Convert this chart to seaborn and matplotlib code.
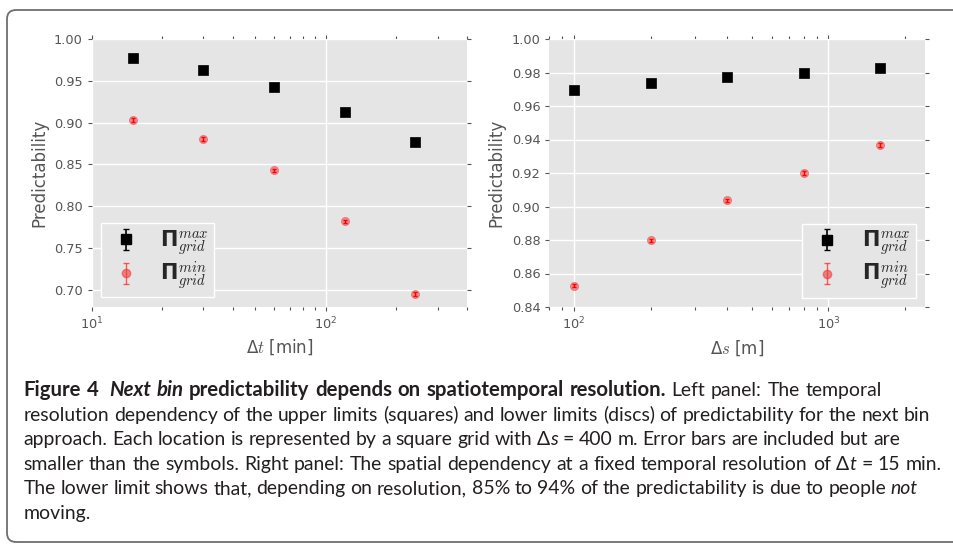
import numpy as np
import pandas as pd
import matplotlib
matplotlib.use("Agg")
import matplotlib.pyplot as plt
import seaborn as sns
from matplotlib.patches import FancyBboxPatch
from matplotlib.transforms import IdentityTransform
from matplotlib.ticker import FormatStrFormatter, MultipleLocator

# ---------------- data ----------------
dt_min = [15, 30, 60, 120, 240]
left_max = [0.977, 0.963, 0.9424, 0.9125, 0.8767]
left_min = [0.9033, 0.8803, 0.8429, 0.782, 0.6953]
left_max_err = [0.001, 0.001, 0.001, 0.001, 0.001]
left_min_err = [0.002, 0.002, 0.002, 0.002, 0.002]

ds_m = [100, 200, 400, 800, 1600]
right_max = [0.9697, 0.9735, 0.9771, 0.9797, 0.9825]
right_min = [0.8527, 0.8798, 0.9037, 0.920, 0.9367]
right_max_err = [0.0005, 0.0005, 0.0005, 0.0005, 0.0005]
right_min_err = [0.001, 0.001, 0.001, 0.001, 0.001]

label_max = r"$\mathbf{\Pi}_{grid}^{max}$"
label_min = r"$\mathbf{\Pi}_{grid}^{min}$"

W, H = 954, 544
sns.set_style("darkgrid", rc={
    "axes.facecolor": "#E5E5E5",
    "grid.color": "white",
    "grid.linewidth": 1.0,
    "axes.edgecolor": "white",
    "xtick.color": "#555555",
    "ytick.color": "#555555",
    "axes.labelcolor": "#555555",
    "xtick.direction": "out",
    "ytick.direction": "out",
})
plt.rcParams["font.family"] = ["DejaVu Sans"]
plt.rcParams["mathtext.fontset"] = "custom"
plt.rcParams["mathtext.rm"] = "DejaVu Sans"
plt.rcParams["mathtext.bf"] = "DejaVu Sans:bold"
plt.rcParams["mathtext.it"] = "cmmi10"
plt.rcParams["mathtext.fallback"] = "cm"

fig = plt.figure(figsize=(W / 100, H / 100), dpi=100)
axL = fig.add_axes([91.7 / W, 1 - 306.7 / H, (467 - 91.7) / W, (306.7 - 39) / H])
axR = fig.add_axes([549.3 / W, 1 - 307 / H, (925 - 549.3) / W, (307 - 39) / H])

RED = "#f03c3c"


def panel(ax, x, ymax, ymin, emax, emin):
    dfa = pd.DataFrame({"x": x, "y": ymax})
    dfb = pd.DataFrame({"x": x, "y": ymin})
    ax.errorbar(x, ymax, yerr=emax, fmt="none", ecolor="black", elinewidth=1, capsize=2, zorder=3)
    sns.scatterplot(data=dfa, x="x", y="y", ax=ax, marker="s", s=44, color="black",
                    edgecolor="black", linewidth=0.5, legend=False, zorder=4)
    sns.scatterplot(data=dfb, x="x", y="y", ax=ax, marker="o", s=34, color=RED, alpha=0.55,
                    edgecolor=RED, linewidth=0.6, legend=False, zorder=4)
    ax.errorbar(x, ymin, yerr=emin, fmt="none", ecolor="red", elinewidth=1, capsize=1.5,
                zorder=5)
    ax.set_xscale("log")
    ax.set_ylabel("Predictability", fontsize=12, color="#555555")
    ax.yaxis.set_major_formatter(FormatStrFormatter("%.2f"))
    ax.tick_params(which="both", top=True, right=True, bottom=True, left=True,
                   labelsize=9.3, colors="#555555", length=3, width=0.8)
    ax.tick_params(which="minor", length=2)
    ax.grid(True, which="major", color="white", linewidth=1.0)
    ax.grid(False, which="minor")
    for sp in ax.spines.values():
        sp.set_visible(False)
    h1 = ax.errorbar([np.nan], [np.nan], yerr=[1], fmt="s", color="black", ms=6.5,
                     ecolor="black", capsize=2.5, elinewidth=1.2)
    h2 = ax.errorbar([np.nan], [np.nan], yerr=[1], fmt="o", color=RED, ms=6, alpha=0.6,
                     ecolor="red", capsize=2, elinewidth=1)
    return h1, h2


LEGKW = dict(fontsize=15, frameon=True, facecolor="#E5E5E5", edgecolor="white", framealpha=1,
             handletextpad=0.75, handlelength=1.85, borderpad=0.25, labelspacing=0.12,
             numpoints=1, borderaxespad=0.45, fancybox=False)

h1, h2 = panel(axL, dt_min, left_max, left_min, left_max_err, left_min_err)
axL.set_xlim(10, 400)
axL.set_ylim(0.68, 1.00)
axL.yaxis.set_major_locator(MultipleLocator(0.05))
axL.set_xlabel(r"$\Delta t$ [min]", fontsize=12, color="#555555")
legL = axL.legend([h1, h2], [label_max, label_min], loc="lower left", **LEGKW)
legL.get_frame().set_linewidth(1.0)

g1, g2 = panel(axR, ds_m, right_max, right_min, right_max_err, right_min_err)
axR.set_xlim(80, 2400)
axR.set_ylim(0.84, 1.00)
axR.yaxis.set_major_locator(MultipleLocator(0.02))
axR.set_xlabel(r"$\Delta s$ [m]", fontsize=12, color="#555555")
legR = axR.legend([g1, g2], [label_max, label_min], loc="lower right", **LEGKW)
legR.get_frame().set_linewidth(1.0)

# ---------------- frame ----------------
frame = FancyBboxPatch((7, 2), 990, 532, boxstyle="round,pad=0,rounding_size=9",
                       transform=IdentityTransform(), facecolor="none",
                       edgecolor="#6d6e71", linewidth=1.3)
fig.patches.append(frame)

# ---------------- caption ----------------
fig.canvas.draw()
renderer = fig.canvas.get_renderer()
CAP = "#231f20"
FAM = ["Lato", "DejaVu Sans"]


def tw(s, size, weight="normal", style="normal"):
    t = fig.text(0, 0, s, fontsize=size, fontweight=weight, fontstyle=style, family=FAM)
    w = t.get_window_extent(renderer).width
    t.remove()
    return w


def width_of(s, size, weight="normal", style="normal"):
    return tw(s + "I", size, weight, style) - tw("I", size, weight, style)


ref_line = ("resolution dependency of the upper limits (squares) and lower limits (discs) "
            "of predictability for the next bin")
size = 12.0 * 907.0 / width_of(ref_line, 12.0)
BOLD_SCALE = 1.05

lines = [
    [("Figure 4  ", "bold", "normal"), ("Next bin", "bold", "italic"),
     (" predictability depends on spatiotemporal resolution.", "bold", "normal"),
     (" Left panel: The temporal", "normal", "normal")],
    [(ref_line, "normal", "normal")],
    [("approach. Each location is represented by a square grid with \u0394", "normal", "normal"),
     ("s", "normal", "italic"),
     (" = 400 m. Error bars are included but are", "normal", "normal")],
    [("smaller than the symbols. Right panel: The spatial dependency at a fixed temporal "
      "resolution of \u0394", "normal", "normal"), ("t", "normal", "italic"),
     (" = 15 min.", "normal", "normal")],
    [("The lower limit shows that, depending on resolution, 85% to 94% of the predictability "
      "is due to people ", "normal", "normal"), ("not", "normal", "italic")],
    [("moving.", "normal", "normal")],
]
baselines = [396, 420.6, 445.2, 469.8, 494.4, 519]
line_ends = [881.7, 930, 900, 941.7, 918, None]
X0 = 23.3

for runs, yb, xend in zip(lines, baselines, line_ends):
    tokens = []
    for txt, weight, style in runs:
        parts = txt.split(" ")
        for i, p in enumerate(parts):
            if i > 0:
                tokens.append((" ", weight, style))
            if p:
                tokens.append((p, weight, style))

    def sz(weight):
        return size * (BOLD_SCALE if weight == "bold" else 1.0)

    natural = 0.0
    nspace = 0
    for tok, weight, style in tokens:
        natural += width_of(tok, sz(weight), weight, style)
        if tok == " ":
            nspace += 1
    extra = 0.0
    if xend is not None and nspace > 0:
        extra = (xend - X0 - natural) / nspace
    x = X0
    for tok, weight, style in tokens:
        w = width_of(tok, sz(weight), weight, style)
        if tok == " ":
            x += w + extra
            continue
        fig.text(x / W, 1 - yb / H, tok, fontsize=sz(weight), fontweight=weight,
                 fontstyle=style, family=FAM, color=CAP, ha="left", va="baseline")
        x += w

fig.savefig("out.png", dpi=100)
